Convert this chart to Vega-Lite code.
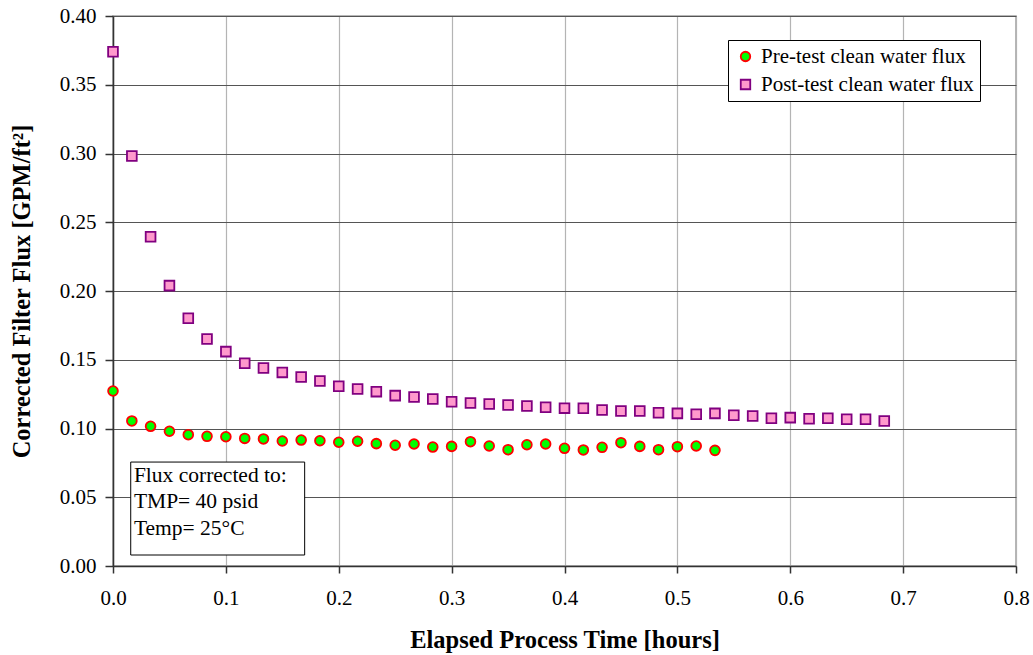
{
  "$schema": "https://vega.github.io/schema/vega-lite/v6.json",
  "width": 903,
  "height": 550,
  "autosize": {"type": "none"},
  "padding": {"left": 113, "top": 16, "right": 17, "bottom": 89},
  "background": "white",
  "config": {
    "font": "Liberation Serif",
    "view": {"stroke": "#a0a0a0", "strokeWidth": 1.5}
  },
  "datasets": {
    "flux": [
      {"t": 0.0000, "flux": 0.1273, "series": "Pre-test clean water flux"},
      {"t": 0.0167, "flux": 0.1055, "series": "Pre-test clean water flux"},
      {"t": 0.0333, "flux": 0.1016, "series": "Pre-test clean water flux"},
      {"t": 0.0500, "flux": 0.0980, "series": "Pre-test clean water flux"},
      {"t": 0.0667, "flux": 0.0955, "series": "Pre-test clean water flux"},
      {"t": 0.0833, "flux": 0.0943, "series": "Pre-test clean water flux"},
      {"t": 0.1000, "flux": 0.0940, "series": "Pre-test clean water flux"},
      {"t": 0.1167, "flux": 0.0928, "series": "Pre-test clean water flux"},
      {"t": 0.1333, "flux": 0.0924, "series": "Pre-test clean water flux"},
      {"t": 0.1500, "flux": 0.0909, "series": "Pre-test clean water flux"},
      {"t": 0.1667, "flux": 0.0916, "series": "Pre-test clean water flux"},
      {"t": 0.1833, "flux": 0.0911, "series": "Pre-test clean water flux"},
      {"t": 0.2000, "flux": 0.0900, "series": "Pre-test clean water flux"},
      {"t": 0.2167, "flux": 0.0907, "series": "Pre-test clean water flux"},
      {"t": 0.2333, "flux": 0.0890, "series": "Pre-test clean water flux"},
      {"t": 0.2500, "flux": 0.0878, "series": "Pre-test clean water flux"},
      {"t": 0.2667, "flux": 0.0887, "series": "Pre-test clean water flux"},
      {"t": 0.2833, "flux": 0.0865, "series": "Pre-test clean water flux"},
      {"t": 0.3000, "flux": 0.0870, "series": "Pre-test clean water flux"},
      {"t": 0.3167, "flux": 0.0904, "series": "Pre-test clean water flux"},
      {"t": 0.3333, "flux": 0.0873, "series": "Pre-test clean water flux"},
      {"t": 0.3500, "flux": 0.0846, "series": "Pre-test clean water flux"},
      {"t": 0.3667, "flux": 0.0882, "series": "Pre-test clean water flux"},
      {"t": 0.3833, "flux": 0.0887, "series": "Pre-test clean water flux"},
      {"t": 0.4000, "flux": 0.0856, "series": "Pre-test clean water flux"},
      {"t": 0.4167, "flux": 0.0844, "series": "Pre-test clean water flux"},
      {"t": 0.4333, "flux": 0.0863, "series": "Pre-test clean water flux"},
      {"t": 0.4500, "flux": 0.0897, "series": "Pre-test clean water flux"},
      {"t": 0.4667, "flux": 0.0870, "series": "Pre-test clean water flux"},
      {"t": 0.4833, "flux": 0.0846, "series": "Pre-test clean water flux"},
      {"t": 0.5000, "flux": 0.0868, "series": "Pre-test clean water flux"},
      {"t": 0.5167, "flux": 0.0873, "series": "Pre-test clean water flux"},
      {"t": 0.5333, "flux": 0.0841, "series": "Pre-test clean water flux"},
      {"t": 0.0000, "flux": 0.3740, "series": "Post-test clean water flux"},
      {"t": 0.0167, "flux": 0.2982, "series": "Post-test clean water flux"},
      {"t": 0.0333, "flux": 0.2395, "series": "Post-test clean water flux"},
      {"t": 0.0500, "flux": 0.2039, "series": "Post-test clean water flux"},
      {"t": 0.0667, "flux": 0.1802, "series": "Post-test clean water flux"},
      {"t": 0.0833, "flux": 0.1651, "series": "Post-test clean water flux"},
      {"t": 0.1000, "flux": 0.1559, "series": "Post-test clean water flux"},
      {"t": 0.1167, "flux": 0.1474, "series": "Post-test clean water flux"},
      {"t": 0.1333, "flux": 0.1440, "series": "Post-test clean water flux"},
      {"t": 0.1500, "flux": 0.1408, "series": "Post-test clean water flux"},
      {"t": 0.1667, "flux": 0.1375, "series": "Post-test clean water flux"},
      {"t": 0.1833, "flux": 0.1345, "series": "Post-test clean water flux"},
      {"t": 0.2000, "flux": 0.1307, "series": "Post-test clean water flux"},
      {"t": 0.2167, "flux": 0.1287, "series": "Post-test clean water flux"},
      {"t": 0.2333, "flux": 0.1268, "series": "Post-test clean water flux"},
      {"t": 0.2500, "flux": 0.1239, "series": "Post-test clean water flux"},
      {"t": 0.2667, "flux": 0.1229, "series": "Post-test clean water flux"},
      {"t": 0.2833, "flux": 0.1215, "series": "Post-test clean water flux"},
      {"t": 0.3000, "flux": 0.1195, "series": "Post-test clean water flux"},
      {"t": 0.3167, "flux": 0.1185, "series": "Post-test clean water flux"},
      {"t": 0.3333, "flux": 0.1178, "series": "Post-test clean water flux"},
      {"t": 0.3500, "flux": 0.1171, "series": "Post-test clean water flux"},
      {"t": 0.3667, "flux": 0.1163, "series": "Post-test clean water flux"},
      {"t": 0.3833, "flux": 0.1154, "series": "Post-test clean water flux"},
      {"t": 0.4000, "flux": 0.1148, "series": "Post-test clean water flux"},
      {"t": 0.4167, "flux": 0.1147, "series": "Post-test clean water flux"},
      {"t": 0.4333, "flux": 0.1135, "series": "Post-test clean water flux"},
      {"t": 0.4500, "flux": 0.1127, "series": "Post-test clean water flux"},
      {"t": 0.4667, "flux": 0.1127, "series": "Post-test clean water flux"},
      {"t": 0.4833, "flux": 0.1115, "series": "Post-test clean water flux"},
      {"t": 0.5000, "flux": 0.1110, "series": "Post-test clean water flux"},
      {"t": 0.5167, "flux": 0.1103, "series": "Post-test clean water flux"},
      {"t": 0.5333, "flux": 0.1110, "series": "Post-test clean water flux"},
      {"t": 0.5500, "flux": 0.1096, "series": "Post-test clean water flux"},
      {"t": 0.5667, "flux": 0.1091, "series": "Post-test clean water flux"},
      {"t": 0.5833, "flux": 0.1074, "series": "Post-test clean water flux"},
      {"t": 0.6000, "flux": 0.1079, "series": "Post-test clean water flux"},
      {"t": 0.6167, "flux": 0.1071, "series": "Post-test clean water flux"},
      {"t": 0.6333, "flux": 0.1074, "series": "Post-test clean water flux"},
      {"t": 0.6500, "flux": 0.1067, "series": "Post-test clean water flux"},
      {"t": 0.6667, "flux": 0.1067, "series": "Post-test clean water flux"},
      {"t": 0.6833, "flux": 0.1055, "series": "Post-test clean water flux"}
    ],
    "note": [
      {"x1": 0.0157, "x2": 0.1698, "y1": 0.0080, "y2": 0.0756, "label": ["Flux corrected to:", "TMP= 40 psid", "Temp= 25°C"], "tx": 0.0185, "ty": 0.0735}
    ]
  },
  "layer": [
    {
      "data": {"name": "note"},
      "mark": {"type": "rect", "fill": "white", "stroke": "black", "strokeWidth": 1},
      "encoding": {
        "x": {"field": "x1", "type": "quantitative", "scale": {"domain": [0, 0.8], "padding": 0, "nice": false, "zero": false},
          "axis": {"title": "Elapsed Process Time [hours]", "values": [0, 0.1, 0.2, 0.3, 0.4, 0.5, 0.6, 0.7, 0.8], "format": ".1f", "labelFlush": false,
            "labelFont": "Liberation Serif", "labelFontSize": 21, "labelColor": "black", "labelPadding": 14,
            "titleFont": "Liberation Serif", "titleFontSize": 24.5, "titleFontWeight": "bold", "titleColor": "black", "titlePadding": 20,
            "domainColor": "#333", "domainWidth": 1.5, "tickColor": "#333", "tickSize": 7, "tickWidth": 1.5,
            "gridColor": "#b4b4b4", "gridWidth": 1.2}},
        "x2": {"field": "x2"},
        "y": {"field": "y1", "type": "quantitative", "scale": {"domain": [0, 0.4], "padding": 0, "nice": false},
          "axis": {"title": "Corrected Filter Flux [GPM/ft²]", "values": [0, 0.05, 0.1, 0.15, 0.2, 0.25, 0.3, 0.35, 0.4], "format": ".2f", "labelFlush": false,
            "labelFont": "Liberation Serif", "labelFontSize": 21, "labelColor": "black", "labelPadding": 9,
            "titleFont": "Liberation Serif", "titleFontSize": 24.5, "titleFontWeight": "bold", "titleColor": "black", "titlePadding": 25,
            "domainColor": "#333", "domainWidth": 1.5, "tickColor": "#333", "tickSize": 8, "tickWidth": 1.5,
            "gridColor": "#555", "gridWidth": 1.2}},
        "y2": {"field": "y2"}
      }
    },
    {
      "data": {"name": "note"},
      "mark": {"type": "text", "align": "left", "baseline": "top", "font": "Liberation Serif", "fontSize": 21.5, "lineHeight": 26.5, "color": "black"},
      "encoding": {
        "x": {"field": "tx", "type": "quantitative"},
        "y": {"field": "ty", "type": "quantitative"},
        "text": {"field": "label"}
      }
    },
    {
      "data": {"name": "flux"},
      "mark": {"type": "point", "filled": false, "strokeWidth": 1.8, "opacity": 1},
      "encoding": {
        "x": {"field": "t", "type": "quantitative"},
        "y": {"field": "flux", "type": "quantitative"},
        "shape": {"field": "series", "type": "nominal",
          "scale": {"domain": ["Pre-test clean water flux", "Post-test clean water flux"], "range": ["circle", "square"]},
          "legend": {"title": null, "orient": "none", "legendX": 615, "legendY": 24,
            "labelFont": "Liberation Serif", "labelFontSize": 21, "labelColor": "black", "labelLimit": 400, "labelOffset": 5,
            "fillColor": "white", "strokeColor": "black", "padding": 6, "rowPadding": 6, "symbolSize": 90, "symbolStrokeWidth": 1.8, "symbolOffset": 1, "offset": 0}},
        "fill": {"field": "series", "type": "nominal",
          "scale": {"domain": ["Pre-test clean water flux", "Post-test clean water flux"], "range": ["#00ff00", "#ff99cc"]}, "legend": null},
        "stroke": {"field": "series", "type": "nominal",
          "scale": {"domain": ["Pre-test clean water flux", "Post-test clean water flux"], "range": ["#ff0000", "#800080"]}, "legend": null},
        "size": {"value": 95}
      }
    }
  ]
}
